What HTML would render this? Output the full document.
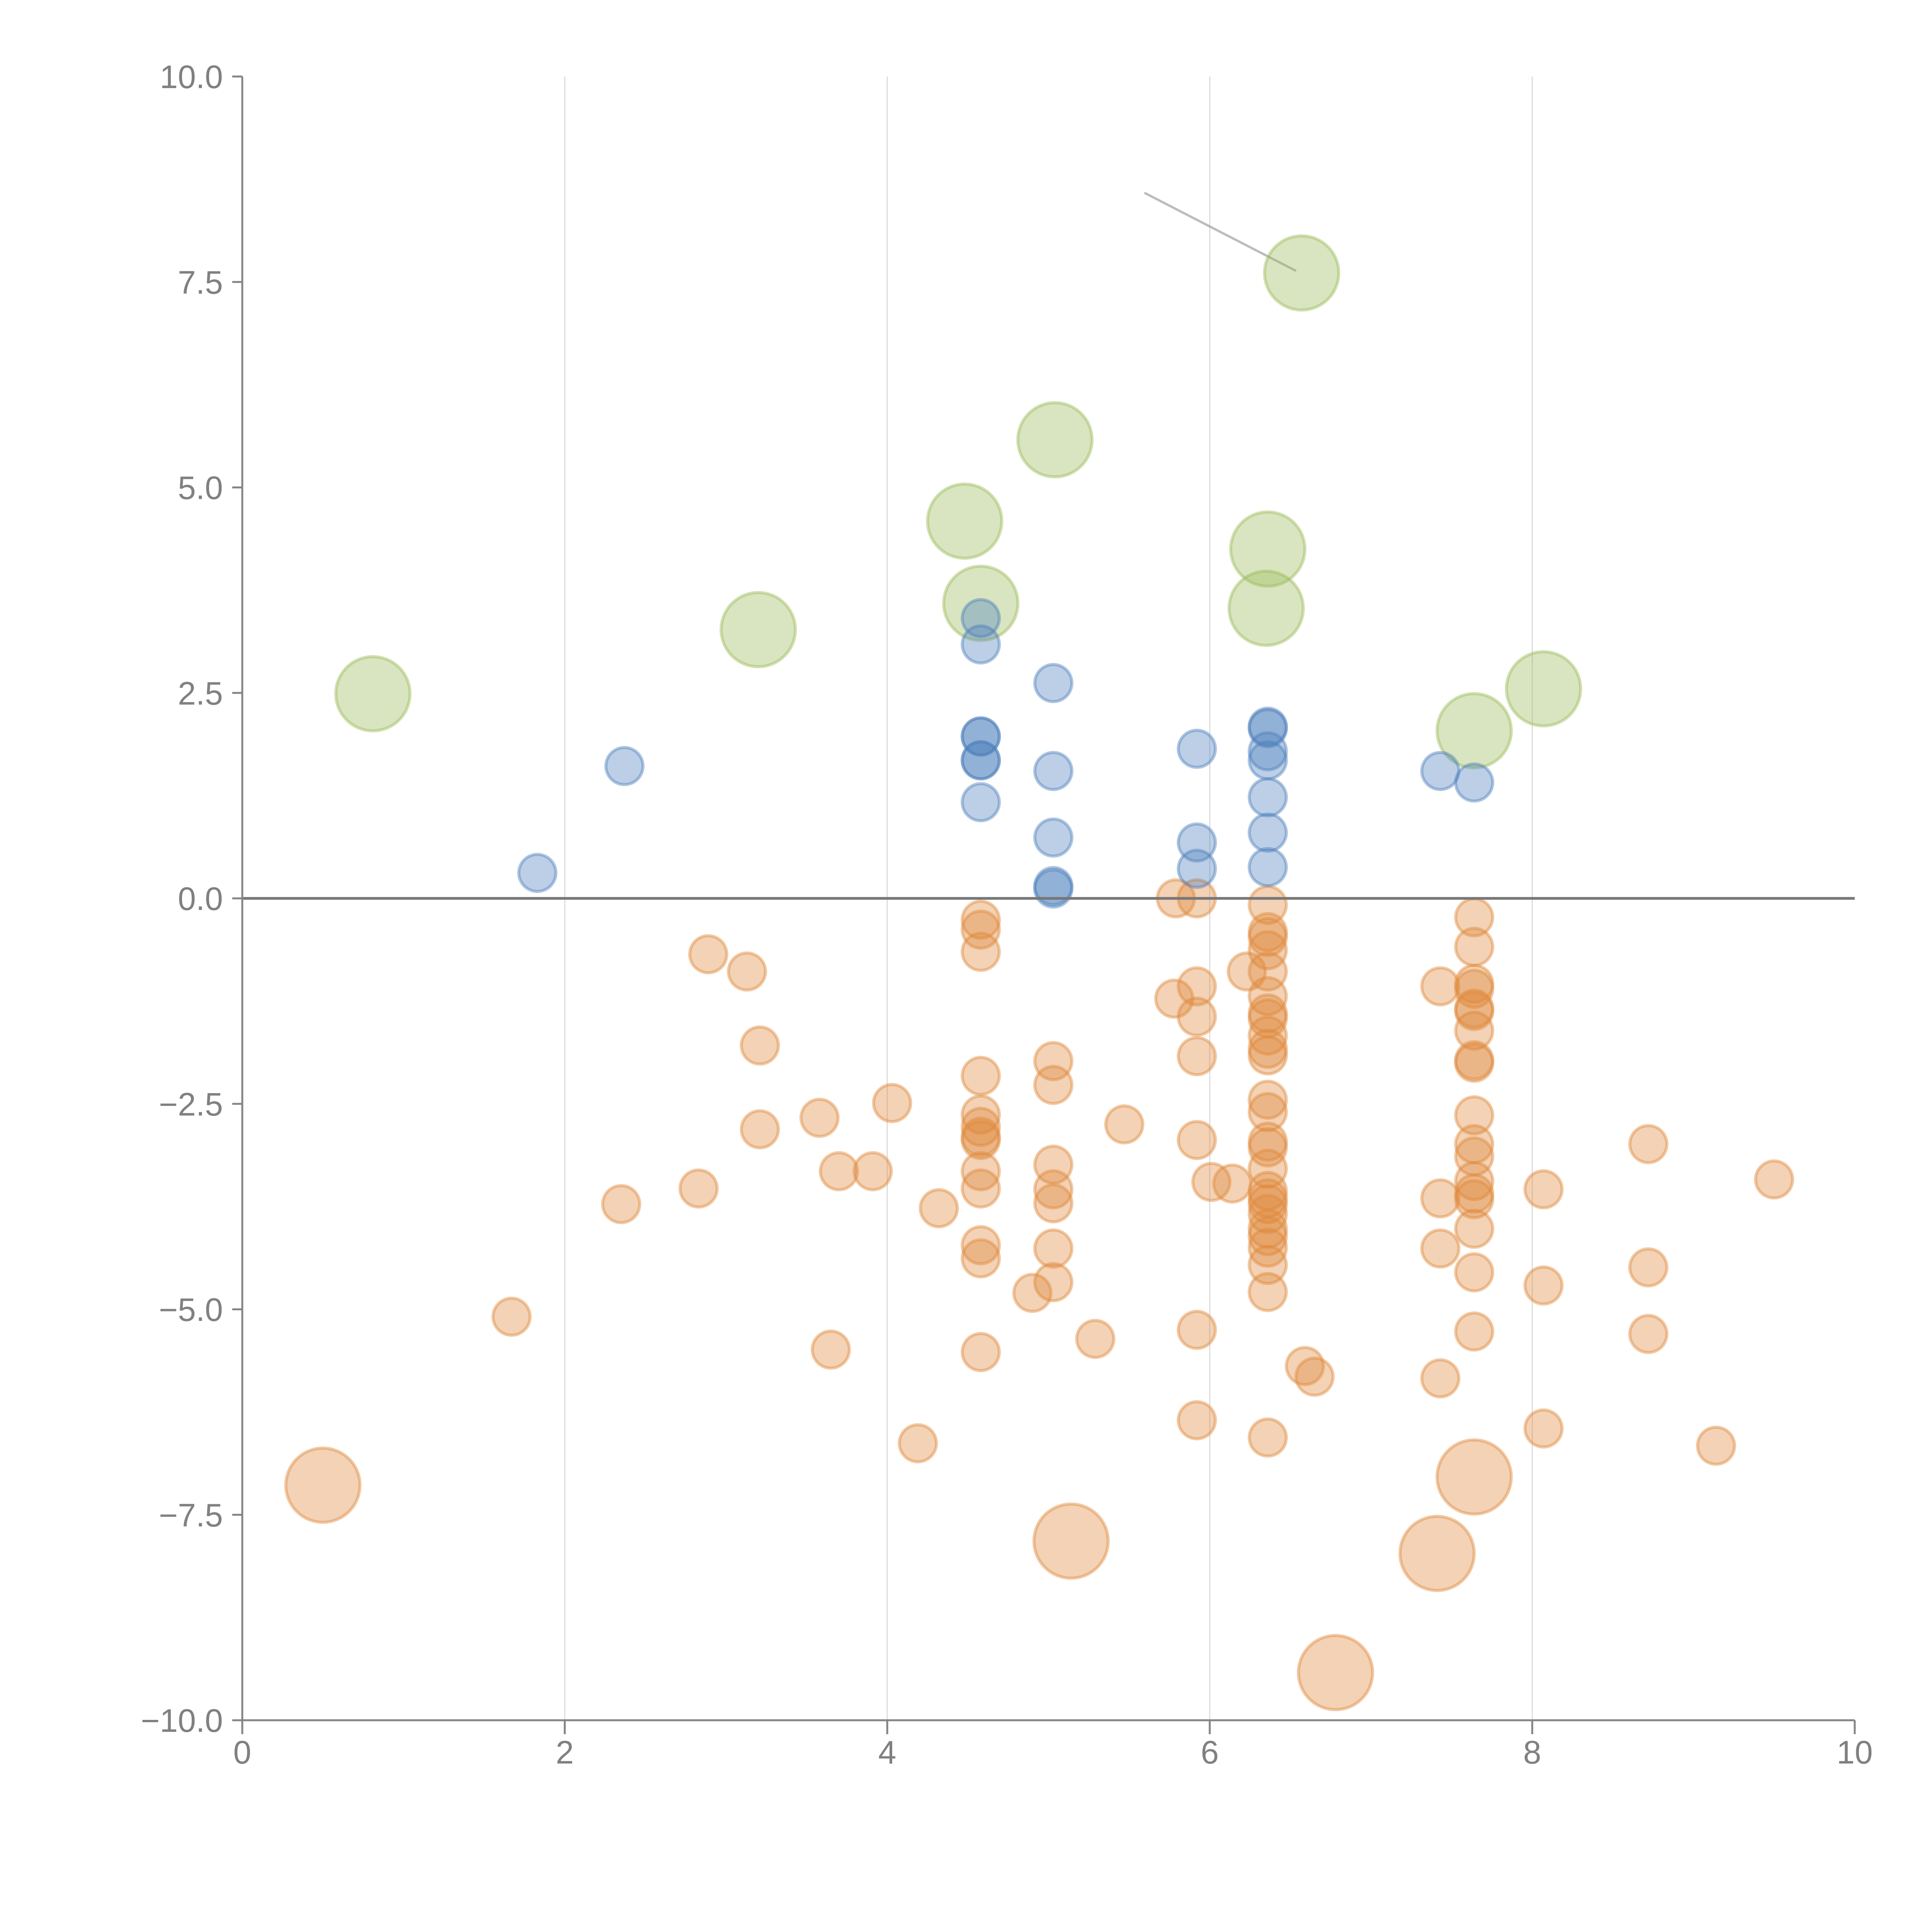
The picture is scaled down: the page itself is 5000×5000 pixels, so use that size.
<!DOCTYPE html>
<html><head><meta charset="utf-8"><style>
html,body{margin:0;padding:0;background:#fff;}
svg{display:block;font-family:"Liberation Sans",sans-serif;}
</style></head><body>
<svg id="chart" width="5000" height="5000" viewBox="0 0 5000 5000" xmlns="http://www.w3.org/2000/svg">
<rect x="0" y="0" width="5000" height="5000" fill="#fff"/>
<g id="grid"></g>
<g id="marks"></g>
<g id="axes"></g>
</svg>
<script>
const xTicks=[0,2,4,6,8,10];
const yTicks=[-10,-7.5,-5,-2.5,0,2.5,5,7.5,10];
const yTickLabels=["−10.0","−7.5","−5.0","−2.5","0.0","2.5","5.0","7.5","10.0"];
// green series (large)
const greenX=[0.81,3.20,4.48,4.58,5.04,6.36,6.35,6.57,7.64,8.07];
const greenY=[2.49,3.27,4.59,3.59,5.58,4.25,3.53,7.61,2.04,2.55];
const greenS=[2,2,2,2,2,2,2,2,2,2];
// blue series
const blueX=[1.83,2.37,4.58,4.58,4.58,4.58,4.58,4.58,4.58,5.03,5.03,5.03,5.03,5.03,5.92,5.92,5.92,6.36,6.36,6.36,6.36,6.36,6.36,6.36,7.43,7.64];
const blueY=[0.31,1.61,3.41,3.09,1.97,1.97,1.68,1.68,1.17,2.62,1.55,0.74,0.15,0.12,1.82,0.68,0.36,2.09,2.07,1.79,1.68,1.23,0.80,0.38,1.55,1.41];
const blueS=[1,1,1,1,1,1,1,1,1,1,1,1,1,1,1,1,1,1,1,1,1,1,1,1,1,1];
// orange series
const orangeX=[2.89,3.13,3.21,3.21,3.58,3.70,3.91,4.03,2.35,2.83,1.67,3.65,4.19,4.32,
4.58,4.58,4.58,4.58,4.58,4.58,4.58,4.58,4.58,4.58,4.58,4.58,4.58,
5.03,5.03,5.03,5.03,5.03,5.03,5.03,4.90,5.29,5.47,5.14,0.50,6.78,7.41,7.64,
5.92,5.92,5.92,5.92,5.92,5.92,5.92,5.79,5.78,6.01,6.14,6.23,
6.36,6.36,6.36,6.36,6.36,6.36,6.36,6.36,6.36,6.36,6.36,6.36,6.36,6.36,6.36,6.36,6.36,6.36,6.36,6.36,6.36,6.36,6.36,6.36,6.36,6.36,
6.59,6.65,7.43,7.43,7.43,7.43,
7.64,7.64,7.64,7.64,7.64,7.64,7.64,7.64,7.64,7.64,7.64,7.64,7.64,7.64,7.64,7.64,7.64,7.64,
8.07,8.07,8.07,8.72,8.72,8.72,9.14,9.50];
const orangeY=[-0.68,-0.89,-1.79,-2.81,-2.67,-3.32,-3.32,-2.49,-3.72,-3.53,-5.09,-5.49,-6.63,-3.77,
-0.26,-0.38,-0.65,-2.16,-2.63,-2.78,-2.94,-3.32,-3.53,-4.22,-4.38,-5.52,-2.90,
-1.98,-2.27,-3.24,-3.54,-3.71,-4.26,-4.67,-4.80,-5.36,-2.75,-7.82,-7.14,-9.42,-7.97,-7.04,
0.0,-1.07,-1.44,-1.92,-2.94,-5.25,-6.35,0.0,-1.22,-3.45,-3.47,-0.89,
-0.08,-0.41,-0.47,-0.63,-0.89,-1.19,-1.40,-1.46,-1.67,-1.83,-1.91,-2.45,-2.60,-2.96,-3.03,-3.29,-3.56,-3.65,-3.72,-3.84,-4.02,-4.11,-4.25,-4.46,-4.79,-6.56,
-5.69,-5.82,-1.07,-3.65,-4.26,-5.84,
-0.23,-0.59,-1.04,-1.10,-1.34,-1.37,-1.61,-1.97,-2.00,-2.64,-2.99,-3.14,-3.44,-3.59,-3.66,-4.02,-4.55,-5.27,
-3.54,-4.71,-6.45,-2.99,-4.49,-5.30,-6.66,-3.42];
const orangeBig=[37,38,39,40,41];

const NS="http://www.w3.org/2000/svg";
const X0=627,X1=4800,Y0=4452,Y1=198;
function xs(v){return X0+(v-0)/(10-0)*(X1-X0);}
function ys(v){return Y0-(v+10)/20*(Y0-Y1);}
function rs(s){return s===2?96:48;}
function mk(tag,attrs,parent){const e=document.createElementNS(NS,tag);for(const k in attrs)e.setAttribute(k,attrs[k]);parent.appendChild(e);return e;}
const grid=document.getElementById('grid'),marks=document.getElementById('marks'),axes=document.getElementById('axes');

xTicks.forEach(t=>{
  if(t>0&&t<10){
    const l=mk('line',{x1:xs(t),x2:xs(t),y1:Y1,y2:Y0,stroke:'#dcdcdc','stroke-width':3},grid);
    
    
  }
});

const cl=mk('line',{x1:xs(5.6),y1:ys(8.58),x2:xs(6.53),y2:ys(7.64),stroke:'#a0a0a0','stroke-opacity':0.7,'stroke-width':6,'stroke-linecap':'round'},marks);



function drawSeries(X,Y,S,color,name){
  for(let i=0;i<X.length;i++){
    const c=mk('circle',{cx:xs(X[i]),cy:ys(Y[i]),r:rs(S[i]),fill:color,'fill-opacity':0.38,stroke:color,'stroke-opacity':0.45,'stroke-width':8},marks);
    
    
  }
}
const orangeS=orangeX.map((_,i)=>orangeBig.indexOf(i)>=0?2:1);
drawSeries(orangeX,orangeY,orangeS,'#e08a3c','orange');
drawSeries(greenX,greenY,greenS,'#9bbb59','green');
drawSeries(blueX,blueY,blueS,'#4f81bd','blue');

const zl=mk('line',{x1:X0,x2:X1,y1:ys(0),y2:ys(0),stroke:'#777','stroke-width':7},axes);


const ya=mk('line',{x1:X0,x2:X0,y1:Y1,y2:Y0,stroke:'#858585','stroke-width':5},axes);


const xa=mk('line',{x1:X0,x2:X1,y1:Y0,y2:Y0,stroke:'#858585','stroke-width':5},axes);



yTicks.forEach((t,i)=>{
  const tk=mk('line',{x1:X0-26,x2:X0,y1:ys(t),y2:ys(t),stroke:'#858585','stroke-width':5},axes);
  
  
  const tx=mk('text',{x:X0-50,y:ys(t)+30,'text-anchor':'end','font-size':84,fill:'#808080'},axes);
  tx.textContent=yTickLabels[i];
  
  
});
xTicks.forEach(t=>{
  const tk=mk('line',{x1:xs(t),x2:xs(t),y1:Y0,y2:Y0+36,stroke:'#858585','stroke-width':5},axes);
  
  
  const tx=mk('text',{x:xs(t),y:Y0+112,'text-anchor':'middle','font-size':84,fill:'#808080'},axes);
  tx.textContent=String(t);
  
  
});
</script>
</body></html>
